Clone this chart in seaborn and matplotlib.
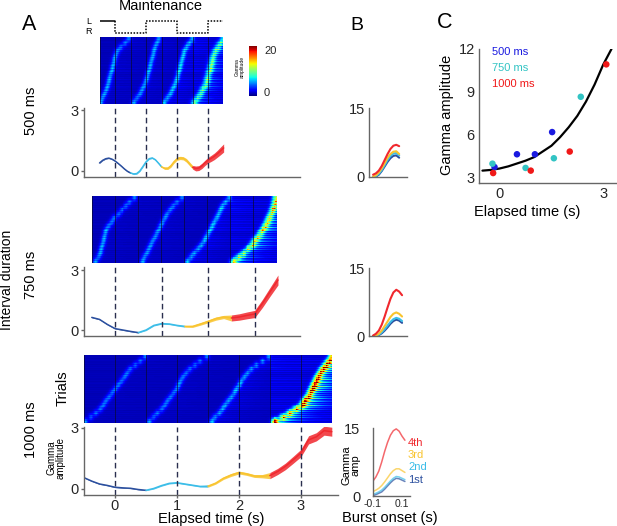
import numpy as np
import matplotlib
matplotlib.use("Agg")
import matplotlib.pyplot as plt
import seaborn as sns

# ===== DATA =====
interval_s = [0.5, 0.75, 1.0]
heat_range = [(-0.25, 1.74), (-0.375, 2.625), (-0.5, 3.5)]

# burst time of each trial group (top row to bottom row), one list per cycle
ridge_500 = [
    [.21, .15, .08, .03, 0, -.02, -.03, -.05, -.06, -.08, -.1, -.11, -.13, -.15, -.18, -.21, -.24],
    [.69, .66, .63, .61, .6, .58, .56, .55, .53, .52, .5, .48, .45, .42, .39, .34, .29],
    [1.24, 1.19, 1.15, 1.11, 1.1, 1.08, 1.06, 1.05, 1.03, 1.02, 1.0, .98, .95, .92, .89, .84, .79],
    [1.74, 1.69, 1.65, 1.61, 1.58, 1.56, 1.55, 1.53, 1.52, 1.5, 1.48, 1.47, 1.44, 1.4, 1.37, 1.32, 1.27],
]
ridge_750 = [
    [.32, .24, .18, .11, .05, -.02, -.06, -.11, -.15, -.16, -.18, -.19, -.21, -.23, -.24, -.27, -.32],
    [1.08, 1.0, .94, .89, .84, .81, .77, .74, .71, .68, .65, .61, .58, .55, .52, .48, .45],
    [1.85, 1.79, 1.74, 1.71, 1.68, 1.65, 1.61, 1.58, 1.55, 1.52, 1.48, 1.45, 1.4, 1.35, 1.29, 1.24, 1.18],
    [2.61, 2.6, 2.58, 2.56, 2.53, 2.5, 2.47, 2.44, 2.4, 2.37, 2.32, 2.27, 2.23, 2.16, 2.08, 2.0, 1.92],
]
ridge_1000 = [
    [.48, .4, .32, .24, .19, .15, .1, .05, 0, -.05, -.1, -.15, -.19, -.24, -.31, -.39, -.48],
    [1.48, 1.37, 1.29, 1.21, 1.15, 1.1, 1.06, 1.03, 1.0, .95, .9, .85, .81, .76, .69, .63, .56],
    [2.47, 2.37, 2.27, 2.19, 2.13, 2.08, 2.03, 2.0, 1.95, 1.92, 1.87, 1.82, 1.77, 1.73, 1.68, 1.61, 1.56],
    [3.5, 3.45, 3.4, 3.35, 3.31, 3.27, 3.24, 3.21, 3.18, 3.15, 3.11, 3.06, 3.02, 2.92, 2.82, 2.71, 2.58],
]
ridges = [ridge_500, ridge_750, ridge_1000]
ridge_amp = [[4.5, 4.5, 5, 6], [4.5, 4.5, 5, 8.5], [4.5, 4.5, 5, 13]]
tail_amp = [[.4, .5, 1.0, 3], [.3, .4, 1.0, 5], [.2, .3, .8, 8]]
# streak patterns across the trials (cycled over the drawn rows)
streak_soft = [1, .9, 1.1, .85, 1.05, 1.2, .9, 1.0, 1.15, .8, 1.1, .95, 1.25, .9, 1.1, .85, 1.0, .92, 1.12, .88, 1.18, .97, 1.05]
streak_hard = [.4, .9, .5, 1.2, .7, 1.6, .6, 1.0, 1.5, .5, 1.1, .7, 1.8, .8, 1.3, .6, 1.4, .5, 1.0]

# mean gamma amplitude
t_500 = [-.25, -.2, -.15, -.1, -.05, 0, .05, .1, .15, .2, .25, .3, .35, .4, .45, .5, .55, .6, .65, .7, .75, .8, .85, .9, .95, 1.0, 1.05, 1.1, 1.15, 1.2, 1.25, 1.3, 1.35, 1.4, 1.45, 1.5, 1.55, 1.6, 1.65, 1.7, 1.75]
y_500 = [.39, .52, .6, .63, .58, .49, .37, .24, .1, -.02, -.1, -.15, -.13, 0, .22, .45, .6, .64, .55, .38, .2, .13, .13, .25, .45, .6, .64, .62, .52, .35, .18, .12, .14, .25, .4, .53, .62, .72, .85, .99, 1.13]
e_500 = [.02] * 11 + [.03] * 10 + [.06, .06, .07, .07, .08, .08, .08, .09, .09, .09] + [.12, .12, .13, .13, .14, .15, .16, .17, .19, .2]
t_750 = [-.375, -.25, -.125, 0, .125, .25, .375, .5, .625, .75, .875, 1.0, 1.125, 1.25, 1.375, 1.5, 1.625, 1.75, 1.875, 2.0, 2.125, 2.25, 2.375, 2.5, 2.625]
y_750 = [.63, .53, .28, .07, 0, -.07, -.13, 0, .23, .32, .3, .23, .18, .18, .3, .43, .57, .65, .6, .65, .73, .8, 1.33, 1.92, 2.5]
e_750 = [.02, .02, .02, .02, .02, .02, .02, .03, .03, .03, .03, .03, .04, .05, .06, .07, .08, .08, .15, .16, .17, .18, .2, .22, .25]
t_1000 = [-.5, -.375, -.25, -.125, 0, .125, .25, .375, .5, .625, .75, .875, 1.0, 1.125, 1.25, 1.375, 1.5, 1.625, 1.75, 1.875, 2.0, 2.125, 2.25, 2.375, 2.5, 2.625, 2.75, 2.875, 3.0, 3.125, 3.25, 3.375, 3.5]
y_1000 = [.55, .38, .24, .17, .08, .05, .03, -.03, -.07, .02, .16, .27, .3, .24, .18, .12, .13, .28, .52, .68, .8, .73, .63, .62, .65, .85, 1.1, 1.42, 1.75, 2.4, 2.55, 2.85, 2.8]
e_1000 = [.02, .02, .02, .02, .02, .02, .02, .02, .02, .03, .03, .03, .03, .03, .03, .03, .05, .05, .06, .07, .07, .07, .07, .08, .15, .15, .16, .17, .18, .2, .2, .22, .22]
curve_t = [t_500, t_750, t_1000]
curve_y = [y_500, y_750, y_1000]
curve_e = [e_500, e_750, e_1000]
cycle_labels = ["1st", "2nd", "3rd", "4th"]
cycle_colors = ["#2b4f9e", "#3bbde8", "#f9c42e", "#f0282e"]

# burst-triggered gamma, panel B
b_t1 = [-.1, -.08, -.06, -.04, -.02, 0, .02, .04, .06, .08]
b_500 = [
    [0, .1, .5, 1.3, 2.3, 3.3, 4.1, 4.6, 4.7, 4.2],
    [0, .2, .7, 1.5, 2.6, 3.7, 4.6, 5.1, 5.2, 4.7],
    [.1, .4, 1.0, 1.9, 3.0, 4.2, 5.0, 5.5, 5.6, 5.0],
    [.5, .8, 1.4, 2.4, 3.7, 5.0, 6.1, 6.8, 7.0, 6.7],
]
b_t2 = [-.1, -.08, -.06, -.04, -.02, 0, .02, .04, .06, .08, .1]
b_750 = [
    [0, 0, .2, .6, 1.2, 1.9, 2.7, 3.3, 3.6, 3.4, 2.9],
    [0, .1, .3, .8, 1.5, 2.3, 3.1, 3.7, 4.0, 3.8, 3.3],
    [0, .1, .5, 1.2, 2.2, 3.2, 4.2, 4.9, 5.2, 4.9, 4.3],
    [.1, .5, 1.2, 2.5, 4.3, 6.3, 8.2, 9.6, 10.2, 9.8, 9.0],
]
b_t3 = [-.1, -.08, -.06, -.04, -.02, 0, .02, .04, .06, .08, .1, .12]
b_1000 = [
    [.1, .3, .6, .9, 1.5, 2.2, 2.9, 3.5, 3.9, 3.8, 3.5, 3.2],
    [.4, .6, .9, 1.3, 1.9, 2.6, 3.3, 3.9, 4.3, 4.2, 3.9, 3.6],
    [1.0, 1.3, 1.7, 2.3, 3.1, 4.0, 4.9, 5.6, 6.0, 6.0, 5.6, 5.2],
    [3.3, 4.2, 5.5, 7.5, 9.8, 11.8, 13.4, 14.4, 14.8, 14.3, 13.2, 12.3],
]

# panel C
c_x_500 = [-.15, .5, 1.02, 1.52]
c_y_500 = [3.7, 4.6, 4.6, 6.16]
c_x_750 = [-.21, .75, 1.57, 2.35]
c_y_750 = [3.94, 3.64, 4.32, 8.64]
c_x_1000 = [-.19, .9, 2.03, 3.09]
c_y_1000 = [3.28, 3.45, 4.79, 10.92]
fit_x = [-.5, -.25, 0, .25, .5, .75, 1, 1.25, 1.5, 1.75, 2, 2.25, 2.5, 2.75, 3, 3.24]
fit_y = [3.45, 3.5, 3.6, 3.75, 3.95, 4.15, 4.4, 4.8, 5.2, 5.8, 6.5, 7.3, 8.3, 9.5, 10.9, 12]

# ===== SETUP =====
W, H = 617, 526
sns.set_theme(style="white")
plt.rcParams["font.family"] = ["Liberation Sans", "DejaVu Sans"]
fig = plt.figure(figsize=(W / 100, H / 100), dpi=100)


def px_axes(x0, y0, x1, y1):
    return fig.add_axes([x0 / W, 1 - y1 / H, (x1 - x0) / W, (y1 - y0) / H])


def px_text(x, y, s, **kw):
    kw.setdefault("ha", "center")
    kw.setdefault("va", "center")
    kw.setdefault("color", "black")
    fig.text(x / W, 1 - y / H, s, **kw)


def style_axis(ax):
    sns.despine(ax=ax)
    for side in ["left", "bottom"]:
        ax.spines[side].set_color("#666666")
        ax.spines[side].set_linewidth(1)
    ax.set_xlabel("")
    ax.set_ylabel("")
    ax.patch.set_alpha(0)


def blur_rows(mat, sigma=2.0):
    # soften the trial groups so the bursts read as a continuous sweep
    half = 6
    kernel = np.exp(-0.5 * (np.arange(-half, half + 1) / sigma) ** 2)
    kernel /= kernel.sum()
    padded = np.pad(mat, ((half, half), (0, 0)), mode="edge")
    return np.apply_along_axis(lambda c: np.convolve(c, kernel, mode="valid"), 0, padded)


def build_matrix(p):
    t0, t1 = heat_range[p]
    dt = 0.016
    n = int(round((t1 - t0) / dt))
    t = t0 + dt * (np.arange(n) + 0.5)
    sub = 4
    nrows = 17 * sub
    bursts = np.zeros((nrows, n))
    tails = np.zeros((nrows, n))
    for i in range(nrows):
        r = i // sub
        for c in range(4):
            rt = ridges[p][c][r]
            end = t1 if c == 3 else rt + interval_s[p]
            width = 0.04 if c == 3 else 0.03
            bursts[i] += ridge_amp[p][c] * np.exp(-0.5 * ((t - rt) / width) ** 2)
            tail = tail_amp[p][c] * np.exp(-(t - rt) / (0.22 if c == 3 else 0.4))
            tail[t < rt] = 0
            tail[t > end] = 0
            tails[i] += tail
    bursts = blur_rows(bursts)
    tails = blur_rows(tails)
    soft = np.resize(streak_soft, nrows)[:, None]
    hard = np.resize(streak_hard, nrows)[:, None]
    mat = 1.0 + 0.5 * (soft - 1) + bursts * soft + tails * hard
    # noisier background in the last half of the trial
    seg4 = t > interval_s[p] * 2.5
    mat[:, seg4] += (hard * 0.2 * (p + 1))
    return mat, dt


# ===== PANEL A =====
heat_boxes = [(100, 37, 223, 104), (92, 196, 277, 263), (84, 355, 332, 423)]
line_boxes = [(84, 108, 300, 177), (84, 267, 300, 336), (84, 427, 338, 495)]
y_low = [-.3, -.3, -.3]
y_high = [3.1, 3.15, 3.03]
x_right = [2.98, 2.98, 3.6]

cax = px_axes(249, 46, 257, 96)

for p in range(3):
    ax = px_axes(*heat_boxes[p])
    mat, dt = build_matrix(p)
    sns.heatmap(mat, ax=ax, cmap="jet", vmin=0, vmax=20, xticklabels=False, yticklabels=False,
                cbar=(p == 0), cbar_ax=cax if p == 0 else None)
    t0, t1 = heat_range[p]
    k = int(np.ceil(t0 / (interval_s[p] / 2)))
    while k * interval_s[p] / 2 < t1:
        ax.axvline((k * interval_s[p] / 2 - t0) / dt, color="#0a0a30", lw=0.7, alpha=0.7)
        k += 1

    ax2 = px_axes(*line_boxes[p])
    t = np.array(curve_t[p])
    y = np.array(curve_y[p])
    e = np.array(curve_e[p])
    I = interval_s[p]
    for c in range(4):
        lo = -10 if c == 0 else I * (c - 0.5)
        hi = I * (c + 0.5) if c < 3 else 10
        mask = (t >= lo - 1e-6) & (t <= hi + 1e-6)
        ax2.fill_between(t[mask], y[mask] - e[mask], y[mask] + e[mask],
                         color=cycle_colors[c], alpha=0.85, lw=0)
        sns.lineplot(x=t[mask], y=y[mask], ax=ax2, color=cycle_colors[c], lw=1.1, errorbar=None)
    for c in range(4):
        ax2.axvline(c * I, color="#2a2f4f", lw=1, dashes=(4, 2.5))
    ax2.set_xlim(-0.5, x_right[p])
    ax2.set_ylim(y_low[p], y_high[p])
    ax2.set_yticks([0, 3])
    ax2.tick_params(axis="y", left=True, length=2, width=1, color="#666666", labelsize=10.5, pad=2)
    style_axis(ax2)
    if p == 2:
        ax2.set_xticks([0, 1, 2, 3])
        ax2.tick_params(axis="x", bottom=True, length=2, width=1, color="#666666", labelsize=10.5, pad=1)
    else:
        ax2.set_xticks([])

cbar = fig.axes[1].collections[0].colorbar
cbar.set_ticks([1.6, 18.4], labels=["0", "20"])
cbar.ax.tick_params(labelsize=8, length=0, pad=5)
cbar.outline.set_visible(False)
px_text(240, 67, "Gamma\namplitude", rotation=90, fontsize=3.6, linespacing=0.9)

# cue trace
cue_ax = px_axes(100, 19, 223, 35)
cue_ax.plot([-0.24, 0], [1, 1], color="black", lw=1.1)
cue_ax.plot([0, 0, .5, .5, 1, 1, 1.5, 1.5, 1.74], [1, 0, 0, 1, 1, 0, 0, 1, 1], color="black", lw=1.1, ls=(0, (1, 1)))
cue_ax.set_xlim(-0.24, 1.74)
cue_ax.set_ylim(-0.15, 1.15)
cue_ax.axis("off")

px_text(161, 6, "Maintenance", fontsize=10.5)
px_text(89, 21, "L", fontsize=6.5)
px_text(89, 31, "R", fontsize=6.5)
px_text(29, 25, "A", fontsize=15.5)
px_text(357, 26, "B", fontsize=14)
px_text(445, 22, "C", fontsize=15.5)
px_text(31, 111, "500 ms", rotation=90, fontsize=10.5)
px_text(31, 275, "750 ms", rotation=90, fontsize=10.5)
px_text(31, 430, "1000 ms", rotation=90, fontsize=10.5)
px_text(7, 280, "Interval duration", rotation=90, fontsize=10)
px_text(63, 388, "Trials", rotation=90, fontsize=10.5)
px_text(56, 458, "Gamma\namplitude", rotation=90, fontsize=7, linespacing=0.95)
px_text(211, 519, "Elapsed time (s)", fontsize=10.5)

# ===== PANEL B =====
b_boxes = [(369, 108, 407, 177), (369, 268, 407, 336), (373, 428, 410, 496)]
b_times = [b_t1, b_t2, b_t3]
b_sets = [b_500, b_750, b_1000]
b_xlim = [(-.128, .134), (-.128, .134), (-.1, .155)]
for p in range(3):
    ax = px_axes(*b_boxes[p])
    for c in range(4):
        vals = np.array(b_sets[p][c])
        if p < 2:
            sns.lineplot(x=b_times[p], y=vals, ax=ax, color=cycle_colors[c], lw=1.5, errorbar=None)
        else:
            sns.lineplot(x=b_times[p], y=vals, ax=ax, color=cycle_colors[c], lw=1.1, alpha=0.7, errorbar=None)
    ax.set_xlim(*b_xlim[p])
    ax.set_ylim(0, 15)
    ax.set_yticks([0, 15])
    ax.tick_params(axis="y", labelsize=10.5, length=0, pad=9 if p == 2 else 3)
    style_axis(ax)
    if p == 2:
        ax.set_xticks([-0.1, 0.1])
        ax.set_xticklabels(["-0.1", "0.1"])
        ax.tick_params(axis="x", labelsize=7.5, length=0, pad=2)
    else:
        ax.set_xticks([])
for lab, col, yy in zip(cycle_labels[::-1], cycle_colors[::-1], [443, 455, 467, 480]):
    px_text(408, yy, lab, color=col, fontsize=8, ha="left")
px_text(351, 465, "Gamma\namp", rotation=90, fontsize=8, linespacing=0.95)
px_text(390, 518, "Burst onset (s)", fontsize=10.5)

# ===== PANEL C =====
ax = px_axes(479, 49, 617, 183)
sns.lineplot(x=fit_x, y=fit_y, ax=ax, color="black", lw=1.6, errorbar=None)
for xs, ys, col in [(c_x_500, c_y_500, "#1a1ae0"), (c_x_750, c_y_750, "#33c4c4"), (c_x_1000, c_y_1000, "#f01818")]:
    sns.scatterplot(x=xs, y=ys, ax=ax, color=col, s=22, edgecolor="none", zorder=3)
ax.set_xlim(-.6, 3.4)
ax.set_ylim(2.58, 12)
ax.set_xticks([0, 3])
ax.set_yticks([3, 6, 9, 12])
ax.tick_params(axis="both", labelsize=10.5, length=0, pad=3)
style_axis(ax)
px_text(492, 52, "500 ms", color="#1a1ae0", fontsize=8, ha="left")
px_text(492, 68, "750 ms", color="#33c4c4", fontsize=8, ha="left")
px_text(492, 84, "1000 ms", color="#f01818", fontsize=8, ha="left")
px_text(447, 115, "Gamma amplitude", rotation=90, fontsize=10.5)
px_text(527, 212, "Elapsed time (s)", fontsize=10.5)

fig.savefig("out.png", dpi=100)
